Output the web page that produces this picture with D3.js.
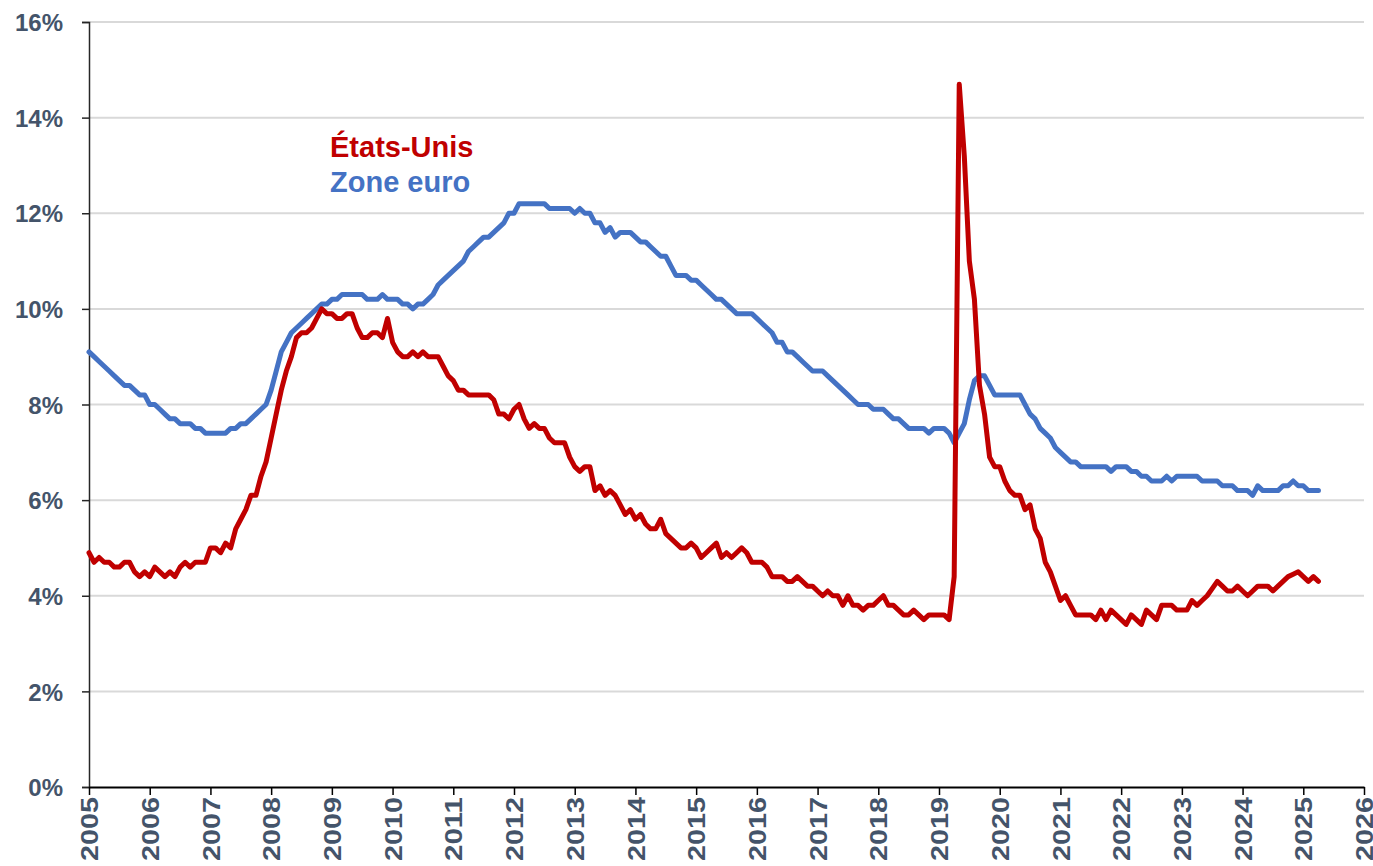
<!DOCTYPE html>
<html>
<head>
<meta charset="utf-8">
<script src="https://cdn.jsdelivr.net/npm/d3@7"></script>
<style>
  body { margin: 0; background: #ffffff; }
  svg text { font-family: Arial, "Liberation Sans", sans-serif; font-weight: bold; }
</style>
</head>
<body>
<svg id="chart" width="1373" height="866"></svg>
<script>
// first plotted month sits on the "2005" tick, one value per month after that
var first_year = 2005;

var year_ticks = [2005, 2006, 2007, 2008, 2009, 2010, 2011, 2012, 2013, 2014, 2015,
  2016, 2017, 2018, 2019, 2020, 2021, 2022, 2023, 2024, 2025, 2026];

var pct_ticks = [0, 2, 4, 6, 8, 10, 12, 14, 16];

var series_names = ['États-Unis', 'Zone euro'];

// unemployment rate, %, États-Unis
var us_rate = [
  4.9,
  4.7, 4.8, 4.7, 4.7, 4.6, 4.6, 4.7, 4.7, 4.5, 4.4, 4.5, 4.4,
  4.6, 4.5, 4.4, 4.5, 4.4, 4.6, 4.7, 4.6, 4.7, 4.7, 4.7, 5.0,
  5.0, 4.9, 5.1, 5.0, 5.4, 5.6, 5.8, 6.1, 6.1, 6.5, 6.8, 7.3,
  7.8, 8.3, 8.7, 9.0, 9.4, 9.5, 9.5, 9.6, 9.8, 10.0, 9.9, 9.9,
  9.8, 9.8, 9.9, 9.9, 9.6, 9.4, 9.4, 9.5, 9.5, 9.4, 9.8, 9.3,
  9.1, 9.0, 9.0, 9.1, 9.0, 9.1, 9.0, 9.0, 9.0, 8.8, 8.6, 8.5,
  8.3, 8.3, 8.2, 8.2, 8.2, 8.2, 8.2, 8.1, 7.8, 7.8, 7.7, 7.9,
  8.0, 7.7, 7.5, 7.6, 7.5, 7.5, 7.3, 7.2, 7.2, 7.2, 6.9, 6.7,
  6.6, 6.7, 6.7, 6.2, 6.3, 6.1, 6.2, 6.1, 5.9, 5.7, 5.8, 5.6,
  5.7, 5.5, 5.4, 5.4, 5.6, 5.3, 5.2, 5.1, 5.0, 5.0, 5.1, 5.0,
  4.8, 4.9, 5.0, 5.1, 4.8, 4.9, 4.8, 4.9, 5.0, 4.9, 4.7, 4.7,
  4.7, 4.6, 4.4, 4.4, 4.4, 4.3, 4.3, 4.4, 4.3, 4.2, 4.2, 4.1,
  4.0, 4.1, 4.0, 4.0, 3.8, 4.0, 3.8, 3.8, 3.7, 3.8, 3.8, 3.9,
  4.0, 3.8, 3.8, 3.7, 3.6, 3.6, 3.7, 3.6, 3.5, 3.6, 3.6, 3.6,
  3.6, 3.5, 4.4, 14.7, 13.2, 11.0, 10.2, 8.4, 7.8, 6.9, 6.7, 6.7,
  6.4, 6.2, 6.1, 6.1, 5.8, 5.9, 5.4, 5.2, 4.7, 4.5, 4.2, 3.9,
  4.0, 3.8, 3.6, 3.6, 3.6, 3.6, 3.5, 3.7, 3.5, 3.7, 3.6, 3.5,
  3.4, 3.6, 3.5, 3.4, 3.7, 3.6, 3.5, 3.8, 3.8, 3.8, 3.7, 3.7,
  3.7, 3.9, 3.8, 3.9, 4.0, 4.15, 4.3, 4.2, 4.1, 4.1, 4.2, 4.1,
  4.0, 4.1, 4.2, 4.2, 4.2, 4.1, 4.2, 4.3, 4.4, 4.45, 4.5, 4.4,
  4.3, 4.4, 4.3
];

// unemployment rate, %, Zone euro
var ez_rate = [
  9.1, 9.0, 8.9, 8.8, 8.7, 8.6, 8.5, 8.4, 8.4, 8.3, 8.2, 8.2,
  8.0, 8.0, 7.9, 7.8, 7.7, 7.7, 7.6, 7.6, 7.6, 7.5, 7.5, 7.4,
  7.4, 7.4, 7.4, 7.4, 7.5, 7.5, 7.6, 7.6, 7.7, 7.8, 7.9, 8.0,
  8.3, 8.7, 9.1, 9.3, 9.5, 9.6, 9.7, 9.8, 9.9, 10.0, 10.1, 10.1,
  10.2, 10.2, 10.3, 10.3, 10.3, 10.3, 10.3, 10.2, 10.2, 10.2, 10.3, 10.2,
  10.2, 10.2, 10.1, 10.1, 10.0, 10.1, 10.1, 10.2, 10.3, 10.5, 10.6, 10.7,
  10.8, 10.9, 11.0, 11.2, 11.3, 11.4, 11.5, 11.5, 11.6, 11.7, 11.8, 12.0,
  12.0, 12.2, 12.2, 12.2, 12.2, 12.2, 12.2, 12.1, 12.1, 12.1, 12.1, 12.1,
  12.0, 12.1, 12.0, 12.0, 11.8, 11.8, 11.6, 11.7, 11.5, 11.6, 11.6, 11.6,
  11.5, 11.4, 11.4, 11.3, 11.2, 11.1, 11.1, 10.9, 10.7, 10.7, 10.7, 10.6,
  10.6, 10.5, 10.4, 10.3, 10.2, 10.2, 10.1, 10.0, 9.9, 9.9, 9.9, 9.9,
  9.8, 9.7, 9.6, 9.5, 9.3, 9.3, 9.1, 9.1, 9.0, 8.9, 8.8, 8.7,
  8.7, 8.7, 8.6, 8.5, 8.4, 8.3, 8.2, 8.1, 8.0, 8.0, 8.0, 7.9,
  7.9, 7.9, 7.8, 7.7, 7.7, 7.6, 7.5, 7.5, 7.5, 7.5, 7.4, 7.5,
  7.5, 7.5, 7.4, 7.2, 7.4, 7.6, 8.1, 8.5, 8.6, 8.6, 8.4, 8.2,
  8.2, 8.2, 8.2, 8.2, 8.2, 8.0, 7.8, 7.7, 7.5, 7.4, 7.3, 7.1,
  7.0, 6.9, 6.8, 6.8, 6.7, 6.7, 6.7, 6.7, 6.7, 6.7, 6.6, 6.7,
  6.7, 6.7, 6.6, 6.6, 6.5, 6.5, 6.4, 6.4, 6.4, 6.5, 6.4, 6.5,
  6.5, 6.5, 6.5, 6.5, 6.4, 6.4, 6.4, 6.4, 6.3, 6.3, 6.3, 6.2,
  6.2, 6.2, 6.1, 6.3, 6.2, 6.2, 6.2, 6.2, 6.3, 6.3, 6.4, 6.3,
  6.3, 6.2, 6.2, 6.2
];

var chart = (function () {

  var margin = {top: 22, right: 9, bottom: 79, left: 89};
  var width = 1373 - margin.left - margin.right;
  var height = 866 - margin.top - margin.bottom;

  var text_color = '#44546A';
  var us_color = '#C00000';
  var ez_color = '#4472C4';

  function toPoints(values) {
    return values.map(function (v, i) {
      return {t: first_year + i / 12, v: v};
    });
  }

  function draw() {
    var svg = d3.select('#chart');
    var g = svg.append('g')
      .attr('transform', 'translate(' + margin.left + ',' + margin.top + ')');

    var x = d3.scaleLinear()
      .domain([year_ticks[0], year_ticks[year_ticks.length - 1]])
      .range([0, width]);

    var y = d3.scaleLinear()
      .domain([pct_ticks[0], pct_ticks[pct_ticks.length - 1]])
      .range([height, 0]);

    // horizontal gridlines
    g.append('g').selectAll('line')
      .data(pct_ticks.slice(1))
      .enter()
      .append('line')
      .attr('x1', 0)
      .attr('x2', width)
      .attr('y1', function (d) { return y(d); })
      .attr('y2', function (d) { return y(d); })
      .attr('stroke', '#D9D9D9')
      .attr('stroke-width', 2);

    // y axis
    var yAxis = g.append('g')
      .call(d3.axisLeft(y)
        .tickValues(pct_ticks)
        .tickSize(7)
        .tickPadding(19)
        .tickFormat(function (d) { return d + '%'; }));
    yAxis.select('.domain').attr('stroke', '#262626').attr('stroke-width', 1.5);
    yAxis.selectAll('.tick line').attr('stroke', '#262626').attr('stroke-width', 1.5);
    yAxis.selectAll('.tick text')
      .attr('fill', text_color)
      .style('font-size', '24px')
      .attr('dy', '0.36em');

    // x axis, labels turned on their side and stretched like the original
    var xAxis = g.append('g')
      .attr('transform', 'translate(0,' + height + ')')
      .call(d3.axisBottom(x)
        .tickValues(year_ticks)
        .tickSize(8)
        .tickSizeOuter(0)
        .tickFormat(function (d) { return '' + d; }));
    xAxis.select('.domain').attr('stroke', '#000000').attr('stroke-width', 2);
    xAxis.selectAll('.tick line').attr('stroke', '#000000').attr('stroke-width', 1.5);
    xAxis.selectAll('.tick text')
      .attr('fill', text_color)
      .style('font-size', '24px')
      .attr('text-anchor', 'end')
      .attr('transform', 'rotate(-90)')
      .attr('x', -10)
      .attr('y', 0)
      .attr('dy', '0.36em')
      .attr('textLength', 64)
      .attr('lengthAdjust', 'spacingAndGlyphs');

    var line = d3.line()
      .x(function (d) { return x(d.t); })
      .y(function (d) { return y(d.v); });

    var series = [
      {name: series_names[0], values: us_rate, color: us_color},
      {name: series_names[1], values: ez_rate, color: ez_color}
    ];

    // euro drawn first so the US spike sits on top
    g.append('g').selectAll('path')
      .data([series[1], series[0]])
      .enter()
      .append('path')
      .attr('d', function (s) { return line(toPoints(s.values)); })
      .attr('fill', 'none')
      .attr('stroke', function (s) { return s.color; })
      .attr('stroke-width', 5)
      .attr('stroke-linejoin', 'round')
      .attr('stroke-linecap', 'round');

    // legend as two coloured labels
    g.append('g').selectAll('text')
      .data(series)
      .enter()
      .append('text')
      .attr('x', 330 - margin.left)
      .attr('y', function (s, i) { return 157 - margin.top + i * 35; })
      .attr('fill', function (s) { return s.color; })
      .style('font-size', '29px')
      .text(function (s) { return s.name; });
  }

  return {
    'draw': draw
  };

}());

chart.draw();
</script>
</body>
</html>
